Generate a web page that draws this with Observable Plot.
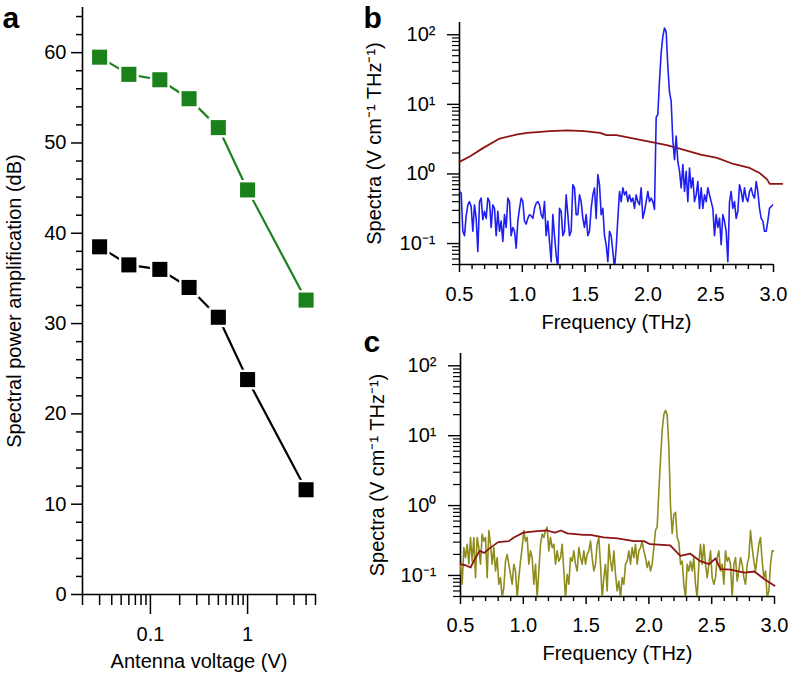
<!DOCTYPE html>
<html><head><meta charset="utf-8">
<script src="https://cdn.jsdelivr.net/npm/d3@7"></script>
<script src="https://cdn.jsdelivr.net/npm/@observablehq/plot@0.6"></script>
<style>
html,body{margin:0;padding:0;background:#fff;}
#root{position:relative;width:788px;height:676px;overflow:hidden;background:#fff;}
#root > div{position:absolute;}
</style></head>
<body>
<div id="root">
  <div id="pa" style="left:0px;top:0px"></div>
  <div id="pb" style="left:350px;top:0px"></div>
  <div id="pc" style="left:350px;top:330px"></div>
</div>
<script>
// ---------- Panel a data ----------
const voltage = [0.03, 0.06, 0.125, 0.25, 0.5, 1, 4];
const ampGreen = [59.5, 57.6, 57.0, 54.9, 51.7, 44.8, 32.6];
const ampBlack = [38.5, 36.5, 36.0, 34.0, 30.7, 23.8, 11.6];
const ampTicks = [0, 10, 20, 30, 40, 50, 60];
const ampMinor = [2,4,6,8,12,14,16,18,22,24,26,28,32,34,36,38,42,44,46,48,52,54,56,58,62,64];
const voltTicks = [0.1, 1];
const voltTickLabels = ["0.1", "1"];
const voltMinor = [0.02,0.03,0.04,0.05,0.06,0.07,0.08,0.09,0.2,0.3,0.4,0.5,0.6,0.7,0.8,0.9,2,3,4,5];

// ---------- Panels b, c data ----------
const freqStart = 0.5;      // THz, first spectral bin
const freqStep = 0.01327;   // THz, bin spacing
const blueB = [0.56,0.53,0.15,0.13,0.25,0.36,0.40,0.34,0.15,0.36,
  0.23,0.077,0.40,0.45,0.22,0.29,0.23,0.45,0.40,0.17,
  0.36,0.32,0.13,0.29,0.15,0.21,0.107,0.26,0.17,0.45,
  0.40,0.13,0.17,0.15,0.086,0.21,0.32,0.45,0.40,0.21,
  0.19,0.23,0.26,0.25,0.23,0.32,0.38,0.40,0.36,0.26,
  0.23,0.40,0.13,0.21,0.107,0.055,0.26,0.13,0.069,0.044,
  0.32,0.29,0.13,0.15,0.50,0.26,0.13,0.15,0.70,0.63,
  0.26,0.26,0.50,0.40,0.23,0.17,0.26,0.13,0.15,0.32,
  0.50,0.63,0.23,0.98,0.70,0.26,0.32,0.13,0.096,0.055,
  0.15,0.13,0.077,0.044,0.086,0.23,0.56,0.40,0.63,0.50,
  0.56,0.40,0.50,0.40,0.45,0.32,0.50,0.40,0.36,0.63,
  0.23,0.29,0.40,0.56,0.40,0.45,0.40,0.31,6.5,7.2,
  22,55,95,125,110,35,15,11,3.0,1.6,
  3.5,1.5,1.1,0.63,1.36,0.56,1.09,0.40,1.22,0.63,
  0.88,0.40,0.50,0.78,0.32,0.63,0.32,0.50,0.40,0.63,
  0.50,0.40,0.32,0.13,0.26,0.17,0.23,0.096,0.26,0.21,
  0.15,0.055,0.40,0.56,0.32,0.40,0.23,0.29,0.70,0.56,
  0.40,0.63,0.45,0.40,0.56,0.63,0.50,0.45,0.78,0.56,
  0.32,0.23,0.21,0.15,0.15,0.21,0.32,0.34,0.36];
const refFreqB = [0.50,0.585,0.69,0.82,0.96,1.04,1.22,1.36,1.49,1.62,1.67,1.75,1.89,2.02,2.15,2.28,2.42,2.55,2.68,2.81,2.89,2.95,2.97,3.03,3.07];
const refB = [1.49,1.80,2.37,3.23,3.69,3.90,4.12,4.22,4.12,3.90,3.61,3.61,3.23,2.89,2.59,2.24,1.90,1.70,1.39,1.22,1.03,0.83,0.72,0.72,0.72];

const oliveC = [0.145,0.075,0.25,0.18,0.28,0.145,0.35,0.16,0.35,0.093,
  0.35,0.25,0.145,0.39,0.31,0.35,0.093,0.44,0.28,0.145,
  0.25,0.116,0.18,0.075,0.093,0.048,0.067,0.16,0.20,0.145,
  0.104,0.075,0.145,0.116,0.048,0.093,0.16,0.25,0.44,0.31,
  0.35,0.145,0.225,0.18,0.075,0.145,0.048,0.116,0.28,0.39,
  0.35,0.44,0.49,0.225,0.35,0.25,0.28,0.145,0.225,0.16,
  0.18,0.28,0.116,0.048,0.104,0.075,0.18,0.16,0.225,0.145,
  0.116,0.25,0.18,0.145,0.225,0.145,0.20,0.225,0.31,0.18,
  0.116,0.145,0.28,0.35,0.145,0.048,0.093,0.145,0.060,0.28,
  0.16,0.116,0.225,0.104,0.060,0.083,0.048,0.093,0.075,0.145,
  0.16,0.225,0.145,0.25,0.18,0.28,0.145,0.225,0.25,0.31,
  0.225,0.18,0.13,0.16,0.116,0.145,0.25,0.44,0.5,1.6,
  4.5,12,20,23,20,7,1.0,0.4,0.75,0.8,
  0.35,0.3,0.145,0.16,0.075,0.048,0.145,0.116,0.16,0.116,
  0.18,0.075,0.048,0.145,0.28,0.145,0.28,0.145,0.093,0.145,
  0.225,0.093,0.075,0.093,0.18,0.225,0.116,0.145,0.075,0.225,
  0.16,0.18,0.145,0.048,0.145,0.18,0.083,0.116,0.18,0.145,
  0.093,0.075,0.145,0.18,0.44,0.25,0.16,0.116,0.18,0.28,
  0.35,0.16,0.093,0.116,0.048,0.06,0.145,0.225,0.225];
const refFreqC = [0.50,0.54,0.58,0.62,0.654,0.69,0.726,0.80,0.885,0.925,1.0,1.11,1.19,1.25,1.30,1.35,1.48,1.535,1.64,1.75,1.88,1.96,2.01,2.17,2.25,2.33,2.41,2.48,2.53,2.57,2.65,2.76,2.84,2.92,3.0];
const refC = [0.145,0.14,0.13,0.18,0.225,0.21,0.24,0.30,0.31,0.35,0.41,0.43,0.44,0.41,0.44,0.40,0.38,0.38,0.35,0.34,0.31,0.31,0.28,0.27,0.19,0.205,0.16,0.145,0.175,0.123,0.121,0.11,0.114,0.088,0.071];

const freqTicks = [0.5, 1.0, 1.5, 2.0, 2.5, 3.0];
const freqTickLabels = ["0.5","1.0","1.5","2.0","2.5","3.0"];
const freqMinor = [0.6,0.7,0.8,0.9,1.1,1.2,1.3,1.4,1.6,1.7,1.8,1.9,2.1,2.2,2.3,2.4,2.6,2.7,2.8,2.9];
const specTicks = [0.1, 1, 10, 100];
const specTickLabels = ["10\u207B\u00B9", "10\u2070", "10\u00B9", "10\u00B2"];
const specMinor = [0.05,0.06,0.07,0.08,0.09,0.2,0.3,0.4,0.5,0.6,0.7,0.8,0.9,2,3,4,5,6,7,8,9,20,30,40,50,60,70,80,90];

// ---------- styling ----------
const font = '"Liberation Sans", Arial, Helvetica, sans-serif';
const FS = 20;
const LFS = 30;
const cGreen = "#1b821b", cBlack = "#000000", cBlue = "#1f1ff2", cDark = "#8e1414", cOlive = "#8f8c1e";
const baseStyle = {fontFamily: font, fontSize: FS + "px", color: "#000", background: "transparent", overflow: "visible"};
const labeler = (ticks, labels) => d => {
  const i = ticks.findIndex(t => Math.abs(t - d) < 1e-9 * Math.max(1, Math.abs(t)));
  return i >= 0 ? labels[i] : "";
};

// ---------- Panel a ----------
const rowsA = voltage.flatMap((v, i) => [
  {v, amp: ampGreen[i], s: "g"},
  {v, amp: ampBlack[i], s: "k"}
]);
const colorA = d => d.s === "g" ? cGreen : cBlack;
const chartA = Plot.plot({
  width: 330, height: 676,
  marginLeft: 82, marginRight: 15, marginTop: 7, marginBottom: 82,
  style: baseStyle,
  x: {type: "log", domain: [0.02, 5]},
  y: {domain: [0, 65]},
  marks: [
    Plot.ruleX([0.02], {stroke: "#000", strokeWidth: 1.6}),
    Plot.ruleY([0], {stroke: "#000", strokeWidth: 1.6}),
    Plot.axisY(ampTicks, {tickSize: 11, tickPadding: 5, strokeWidth: 1.5, fontSize: FS, tickFormat: d => String(d), label: null}),
    Plot.axisY(ampMinor, {tickSize: 6, strokeWidth: 1.5, tickFormat: () => "", label: null}),
    Plot.axisX(voltTicks, {tickSize: 20, tickPadding: 12, strokeWidth: 1.5, fontSize: FS, tickFormat: labeler(voltTicks, voltTickLabels), label: null}),
    Plot.axisX(voltMinor, {tickSize: 11, strokeWidth: 1.5, tickFormat: () => "", label: null}),
    Plot.line(rowsA.filter(d => d.s === "g"), {x: "v", y: "amp", stroke: cGreen, strokeWidth: 2.2}),
    Plot.line(rowsA.filter(d => d.s === "k"), {x: "v", y: "amp", stroke: cBlack, strokeWidth: 2.2}),
    Plot.dot(rowsA, {x: "v", y: "amp", symbol: "square", r: 11.2, fill: "white"}),
    Plot.dot(rowsA, {x: "v", y: "amp", symbol: "square", r: 8.5, fill: colorA}),
    Plot.text(["Spectral power amplification (dB)"], {frameAnchor: "left", textAnchor: "middle", rotate: -90, dx: -68, fontSize: FS}),
    Plot.text(["Antenna voltage (V)"], {frameAnchor: "bottom", textAnchor: "middle", dy: 73, fontSize: FS}),
    Plot.text(["a"], {frameAnchor: "top-left", textAnchor: "start", lineAnchor: "bottom", dx: -80, dy: 20, fontSize: LFS, fontWeight: "bold"})
  ]
});
document.getElementById("pa").appendChild(chartA);

// ---------- Panels b, c ----------
const tableB = blueB.map((v, i) => ({f: freqStart + i * freqStep, v}));
const tableRefB = refFreqB.map((f, i) => ({f, v: refB[i]}));
const tableC = oliveC.map((v, i) => ({f: freqStart + i * freqStep, v}));
const tableRefC = refFreqC.map((f, i) => ({f, v: refC[i]}));

function spectrumPanel({letter, noisy, noisyColor, ref, mt, mb, ml, mr, h, xPad, ylabDx, xlabDy, letterDx, letterDy, noisyOnTop}) {
  const noisyLine = Plot.line(noisy, {x: "f", y: "v", stroke: noisyColor, strokeWidth: 1.6, clip: true});
  const refLine = Plot.line(ref, {x: "f", y: "v", stroke: cDark, strokeWidth: 1.8});
  return Plot.plot({
    width: 438, height: h,
    marginLeft: ml, marginRight: mr, marginTop: mt, marginBottom: mb,
    style: baseStyle,
    x: {domain: [0.5, 3.0]},
    y: {type: "log", domain: [0.05, 150]},
    marks: [
      Plot.ruleX([0.5], {stroke: "#000", strokeWidth: 1.6}),
      Plot.ruleY([0.05], {stroke: "#000", strokeWidth: 1.6}),
      Plot.axisY(specTicks, {tickSize: 12, tickPadding: 12, strokeWidth: 1.4, fontSize: FS, tickFormat: labeler(specTicks, specTickLabels), label: null}),
      Plot.axisY(specMinor, {tickSize: 7, strokeWidth: 1.2, tickFormat: () => "", label: null}),
      Plot.axisX(freqTicks, {tickSize: 8, tickPadding: xPad, strokeWidth: 1.5, fontSize: FS, tickFormat: labeler(freqTicks, freqTickLabels), label: null}),
      Plot.axisX(freqMinor, {tickSize: 5, strokeWidth: 1.4, tickFormat: () => "", label: null}),
      ...(noisyOnTop ? [refLine, noisyLine] : [noisyLine, refLine]),
      Plot.text(["Spectra (V cm\u207B\u00B9 THz\u207B\u00B9)"], {frameAnchor: "left", textAnchor: "middle", rotate: -90, dx: ylabDx, fontSize: FS}),
      Plot.text(["Frequency (THz)"], {frameAnchor: "bottom", textAnchor: "middle", dy: xlabDy, fontSize: FS}),
      Plot.text([letter], {frameAnchor: "top-left", textAnchor: "start", lineAnchor: "bottom", dx: letterDx, dy: letterDy, fontSize: LFS, fontWeight: "bold"})
    ]
  });
}

const chartB = spectrumPanel({letter: "b", noisy: tableB, noisyColor: cBlue, ref: tableRefB,
  mt: 22, mb: 76, ml: 109, mr: 15, h: 340, xPad: 14, ylabDx: -85, xlabDy: 64, letterDx: -96, letterDy: 5, noisyOnTop: true});
document.getElementById("pb").appendChild(chartB);

const chartC = spectrumPanel({letter: "c", noisy: tableC, noisyColor: cOlive, ref: tableRefC,
  mt: 23, mb: 80, ml: 110, mr: 14, h: 346, xPad: 13, ylabDx: -83, xlabDy: 63, letterDx: -97, letterDy: -2, noisyOnTop: false});
document.getElementById("pc").appendChild(chartC);
</script>
</body></html>
